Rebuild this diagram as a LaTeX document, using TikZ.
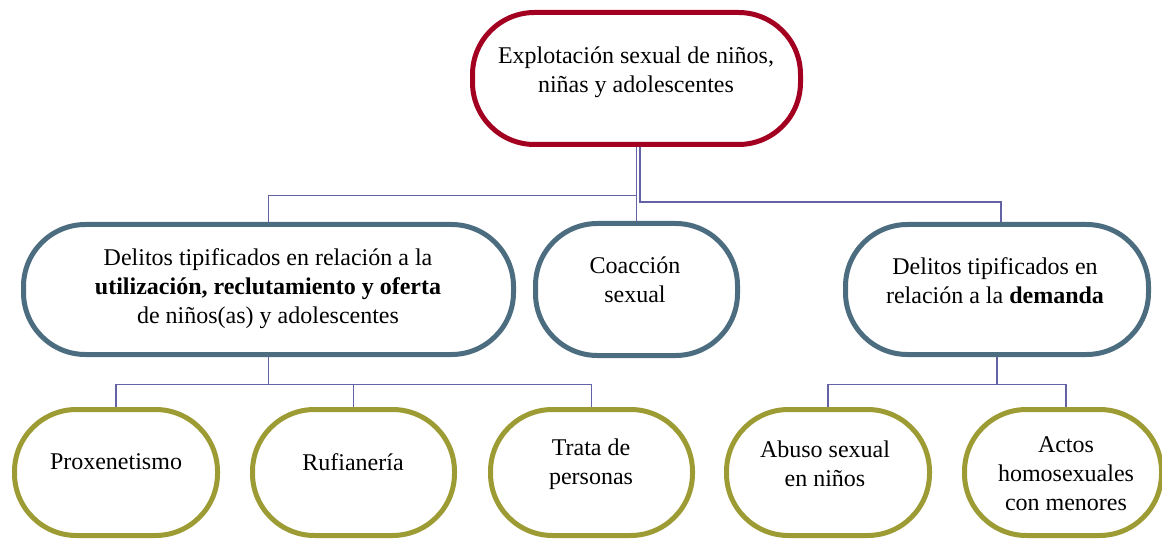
\documentclass[tikz,border=0pt]{standalone}
\usepackage{fontspec}
\setmainfont{Liberation Serif}
\definecolor{topred}{RGB}{163,0,33}
\definecolor{midblue}{RGB}{76,108,128}
\definecolor{olivec}{RGB}{156,155,52}
\definecolor{linkc}{RGB}{98,98,164}
\begin{document}
\begin{tikzpicture}[x=1pt,y=-1pt,
  box/.style={draw, line width=5pt, rounded corners=62pt, inner sep=0pt},
  topbox/.style={box, draw=topred},
  midbox/.style={box, draw=midblue},
  leafbox/.style={box, draw=olivec, minimum width=203pt, minimum height=126pt},
  txt/.style={align=center, font=\fontsize{24}{29}\selectfont, inner sep=0pt},
  link/.style={draw=linkc, line width=1.6pt}]
\useasboundingbox (0,0) rectangle (1162,540);
\clip (0,0) rectangle (1162,540);
% boxes
\node[topbox, minimum width=328pt, minimum height=132pt] (top) at (636.5,78.5) {};
\node[midbox, minimum width=490pt, minimum height=130pt] (left) at (268.5,289.5) {};
\node[midbox, minimum width=202pt, minimum height=132pt] (coacc) at (636.5,289.5) {};
\node[midbox, minimum width=303pt, minimum height=130pt] (right) at (997,289.5) {};
\node[leafbox] (prox) at (116,472.5) {};
\node[leafbox, minimum width=202pt] (ruf) at (353.5,472.5) {};
\node[leafbox, minimum width=202pt] (trata) at (591.5,472.5) {};
\node[leafbox] (abuso) at (828,472.5) {};
\node[leafbox, minimum width=197pt] (actos) at (1063,472.5) {};
% texts
\node[txt] (toptxt) at (636,72) {Explotación sexual de niños,\\ niñas y adolescentes};
\node[txt] (lefttxt) at (268,289) {Delitos tipificados en relación a la\\ \textbf{utilización, reclutamiento y oferta}\\ de niños(as) y adolescentes};
\node[txt] (coacctxt) at (635,279.5) {Coacción\\ sexual};
\node[txt] (righttxt) at (995,280.5) {Delitos tipificados en\\ relación a la \textbf{demanda}};
\node[txt] (proxtxt) at (116,462) {Proxenetismo};
\node[txt] (ruftxt) at (353,462) {Rufianería};
\node[txt] (tratatxt) at (591,464) {Trata de\\ personas};
\node[txt] (abusotxt) at (825,464) {Abuso sexual\\ en niños};
\node[txt] (actostxt) at (1066,474) {Actos\\ homosexuales\\ con menores};
% connectors
\draw[link] (top.south) -- (coacc.north);
\draw[link] (top.south) -- ++(0,48.5) -| (left.north);
\draw[link] ([xshift=3.5pt]top.south) -- ++(0,55) -| ([xshift=4pt]right.north);
\draw[link] (left.south) -- ++(0,27.5) coordinate (lj);
\draw[link] (lj) -| (prox.north);
\draw[link] (lj) -| (ruf.north);
\draw[link] (lj) -| (trata.north);
\draw[link] (right.south) -- ++(0,27.5) coordinate (rj);
\draw[link] (rj) -| (abuso.north);
\draw[link] (rj) -| ([xshift=3pt]actos.north);
\end{tikzpicture}
\end{document}
